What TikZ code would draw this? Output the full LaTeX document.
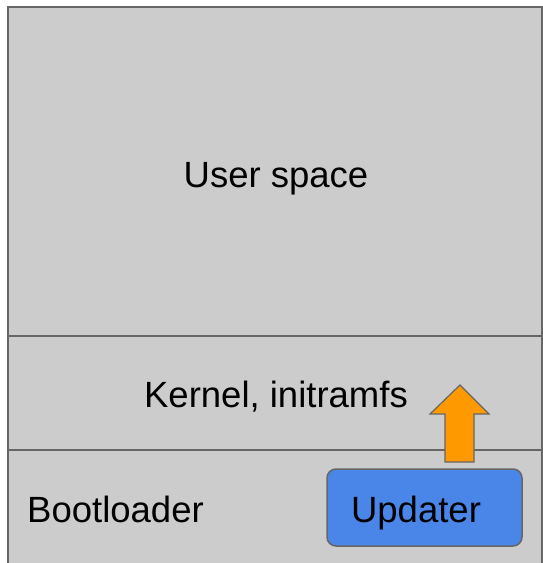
\documentclass[tikz,border=0pt]{standalone}
\usepackage{fontspec}
\setmainfont{Liberation Sans}
\definecolor{layergray}{HTML}{CCCCCC}
\definecolor{edgegray}{HTML}{666666}
\definecolor{updblue}{HTML}{4A86E8}
\definecolor{arrorange}{HTML}{FF9900}
\tikzset{
  layer/.style={fill=layergray, draw=edgegray, line width=2pt},
  lbl/.style={font=\fontsize{36.5}{40}\selectfont, inner sep=0pt, text=black},
  updbox/.style={fill=updblue, draw=edgegray, line width=1.5pt, rounded corners=9pt},
  uparrow/.style={fill=arrorange, draw=edgegray, line width=1.2pt, line join=miter}
}
\begin{document}
\begin{tikzpicture}[x=1pt,y=-1pt]
\useasboundingbox (0,0) rectangle (543,563);
% layers
\draw[layer] (8,7) rectangle (542,336);
\draw[layer] (8,336) rectangle (542,450);
\draw[layer] (8,450) rectangle (542,575);
% labels
\node[lbl, anchor=base] (user) at (276,187) {User space};
\node[lbl, anchor=base] (kernel) at (276,407) {Kernel, initramfs};
\node[lbl, anchor=base west] (boot) at (27,522) {Bootloader};
% updater
\draw[updbox] (327,469) rectangle (522,546);
\node[lbl, anchor=base] (upd) at (416,522) {Updater};
% arrow
\draw[uparrow] (445,462) -- (445,414) -- (430,414) -- (460,385) -- (489,414) -- (474,414) -- (474,462) -- cycle;
\end{tikzpicture}
\end{document}
